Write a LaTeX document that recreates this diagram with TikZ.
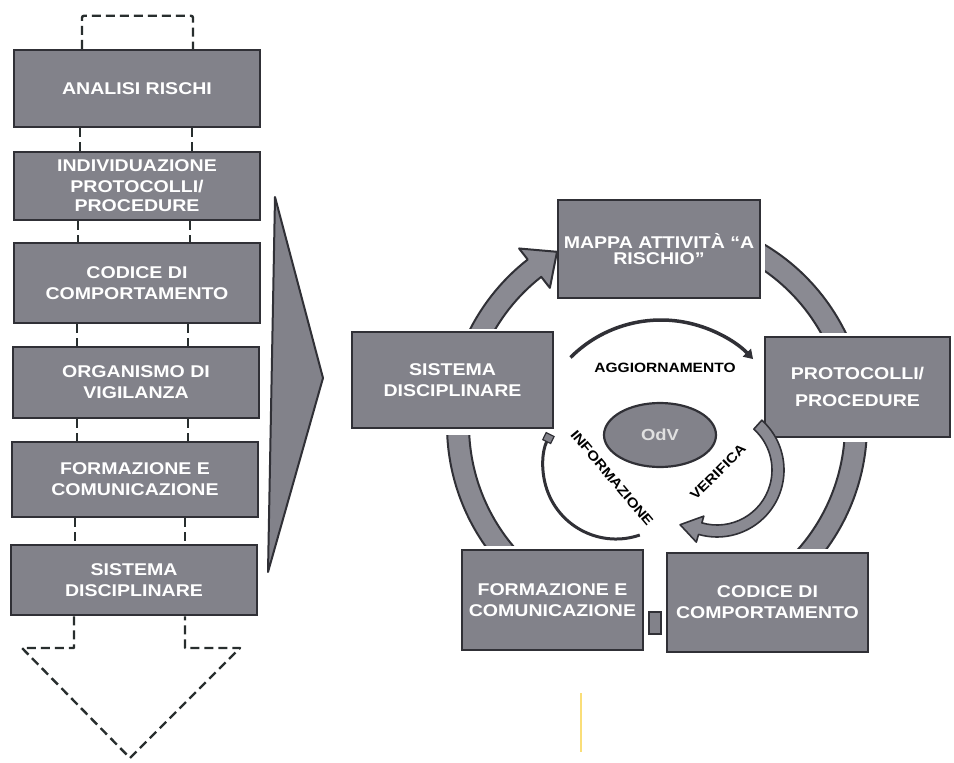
\documentclass[tikz,border=0pt]{standalone}
\usepackage{fontspec}
\setmainfont{Liberation Sans}
\newfontfamily\boxfont{Liberation Sans}[FakeStretch=1.15]
\usetikzlibrary{arrows.meta,calc,shapes.geometric}
\definecolor{boxgray}{RGB}{130,130,138}
\definecolor{bandgray}{RGB}{138,138,146}
\definecolor{edge}{RGB}{48,48,54}
\definecolor{dashc}{RGB}{40,46,46}
\definecolor{scanyellow}{RGB}{250,222,120}
\begin{document}
\begin{tikzpicture}[x=1pt,y=-1pt,
  blk/.style={draw=edge, line width=2.5pt, fill=boxgray, text=white,
    font=\boxfont\bfseries\fontsize{17}{21}\selectfont, align=center, inner sep=0pt},
  dsh/.style={draw=dashc, line width=2.4pt, dash pattern=on 9pt off 5pt},
  band/.style={draw=edge, fill=bandgray, line width=2pt, line join=round},
  thinarc/.style={draw=edge, line width=3.5pt},
  lbl/.style={font=\boxfont\bfseries\fontsize{13.5}{16}\selectfont, text=black, inner sep=0pt}]
\useasboundingbox (0,0) rectangle (954,763);
\fill[white] (0,0) rectangle (954,763);

% ---------- left column ----------
\coordinate (t1) at (275,197);
\coordinate (t2) at (323,378);
\coordinate (t3) at (268,572);
\draw[draw=edge, fill=boxgray, line width=2pt, line join=round] (t1) -- (t2) -- (t3) -- cycle;

\node[blk, minimum width=246, minimum height=77] (b1) at (137,88.5) {ANALISI RISCHI};
\node[blk, minimum width=246, minimum height=68] (b2) at (137,186) {INDIVIDUAZIONE\\PROTOCOLLI/\\[-2pt]PROCEDURE};
\node[blk, minimum width=246, minimum height=80] (b3) at (137,283) {CODICE DI\\COMPORTAMENTO};
\node[blk, minimum width=246, minimum height=71] (b4) at (136,382.5) {ORGANISMO DI\\VIGILANZA};
\node[blk, minimum width=246, minimum height=75] (b5) at (135,479.5) {FORMAZIONE E\\COMUNICAZIONE};
\node[blk, minimum width=246, minimum height=70] (b6) at (134,580) {SISTEMA\\DISCIPLINARE};

% top dashed loop
\draw[dsh, rounded corners=2pt] ([xshift=-55pt]b1.north) -- ++(0,-33) -| ([xshift=56pt]b1.north);
% dashed links
\draw[dsh] ([xshift=-57pt]b1.south) -- ([xshift=-57pt]b2.north);
\draw[dsh] ([xshift=55pt]b1.south) -- ([xshift=55pt]b2.north);
\draw[dsh] ([xshift=-59pt]b2.south) -- ([xshift=-59pt]b3.north);
\draw[dsh] ([xshift=53pt]b2.south) -- ([xshift=53pt]b3.north);
\draw[dsh] ([xshift=-60pt]b3.south) -- ([xshift=-59pt]b4.north);
\draw[dsh] ([xshift=51pt]b3.south) -- ([xshift=52pt]b4.north);
\draw[dsh] ([xshift=-59pt]b4.south) -- ([xshift=-58pt]b5.north);
\draw[dsh] ([xshift=52pt]b4.south) -- ([xshift=53pt]b5.north);
\draw[dsh] ([xshift=-60pt]b5.south) -- ([xshift=-59pt]b6.north);
\draw[dsh] ([xshift=50pt]b5.south) -- ([xshift=51pt]b6.north);
% bottom dashed arrow
\coordinate (d1) at (22,648);
\coordinate (dtip) at (130,758);
\coordinate (d2) at (240,648);
\draw[dsh, line join=round] ([xshift=-60pt]b6.south) |- (d1) -- (dtip) -- (d2) -| ([xshift=51pt]b6.south);

% ---------- right cycle ----------
\coordinate (C) at (657,425);
% arc SISTEMA -> MAPPA with head
\begin{scope}
\clip (0,0) rectangle (954,328);
\draw[band] ($(C)+(-162:210)$) arc[start angle=-162,end angle=-128,radius=210]
  -- ($(C)+(-128:224)$) -- ($(C)+(-120:200)$) -- ($(C)+(-128:174)$)
  -- ($(C)+(-128:188)$) arc[start angle=-128,end angle=-162,radius=188] -- cycle;
\end{scope}
% arc MAPPA -> PROTOCOLLI
\begin{scope}
\clip (765,0) rectangle (954,332);
\draw[band] ($(C)+(-64:210)$) arc[start angle=-64,end angle=-18,radius=210]
  -- ($(C)+(-18:188)$) arc[start angle=-18,end angle=-64,radius=188] -- cycle;
\end{scope}
% arc PROTOCOLLI -> CODICE
\begin{scope}
\clip (0,442) rectangle (954,548);
\draw[band] ($(C)+(-2:210)$) arc[start angle=-2,end angle=46,radius=210]
  -- ($(C)+(46:188)$) arc[start angle=46,end angle=-2,radius=188] -- cycle;
\end{scope}
% arc FORMAZIONE -> SISTEMA
\begin{scope}
\clip (0,435) rectangle (560,545);
\draw[band] ($(C)+(128:210)$) arc[start angle=128,end angle=186,radius=210]
  -- ($(C)+(186:188)$) arc[start angle=186,end angle=128,radius=188] -- cycle;
\end{scope}

\node[blk, minimum width=202, minimum height=98, font=\boxfont\bfseries\fontsize{17}{16}\selectfont] (mappa) at (659,249) {MAPPA ATTIVITÀ “A\\RISCHIO”};
\node[blk, minimum width=201, minimum height=96] (sisr) at (452.5,380) {SISTEMA\\DISCIPLINARE};
\node[blk, minimum width=185, minimum height=100, font=\boxfont\bfseries\fontsize{17}{27}\selectfont] (prot) at (857.5,387) {PROTOCOLLI/\\PROCEDURE};
\node[blk, minimum width=201, minimum height=99] (codr) at (767.5,602.5) {CODICE DI\\COMPORTAMENTO};
\node[blk, minimum width=181, minimum height=100] (forr) at (552.5,600) {FORMAZIONE E\\COMUNICAZIONE};
\node[draw=edge, fill=boxgray, line width=1.8pt, minimum width=12, minimum height=22, inner sep=0pt] (sq) at (655,623) {};

% centre
\node[ellipse, draw=edge, fill=boxgray, line width=2.2pt, minimum width=112, minimum height=64,
  text=black!12, font=\boxfont\bfseries\fontsize{16}{18}\selectfont] (odv) at (660,435) {OdV};

% AGGIORNAMENTO arc
\coordinate (A) at (661,448);
\draw[thinarc, -{Triangle[length=9pt,width=11pt]}] ($(A)+(-135:128)$) arc[start angle=-135,end angle=-44,radius=128];
% INFORMAZIONE arc
\coordinate (I) at (616,466);
\draw[edge, line width=3pt, -{Square[length=9pt,width=10pt,fill=boxgray,line width=1.2pt]}] ($(I)+(71:73)$) arc[start angle=71,end angle=206,radius=73];
% VERIFICA band
\coordinate (V) at (717,470);
\draw[band, line width=1.6pt] ($(V)+(-48:67)$) arc[start angle=-48,end angle=106,radius=67]
  -- ($(V)+(106:75)$) -- ($(V)+(124:66)$) -- ($(V)+(106:48)$)
  -- ($(V)+(106:55)$) arc[start angle=106,end angle=-48,radius=55] -- cycle;

\node[lbl] (agg) at (665,368) {AGGIORNAMENTO};
\node[lbl, rotate=-50] (inf) at (612,478) {INFORMAZIONE};
\node[lbl, rotate=45] (ver) at (718,472) {VERIFICA};

% faint scan mark
\coordinate (y1) at (581,693);
\coordinate (y2) at (581,752);
\draw[scanyellow, line width=2pt] (y1) -- (y2);
\end{tikzpicture}
\end{document}
